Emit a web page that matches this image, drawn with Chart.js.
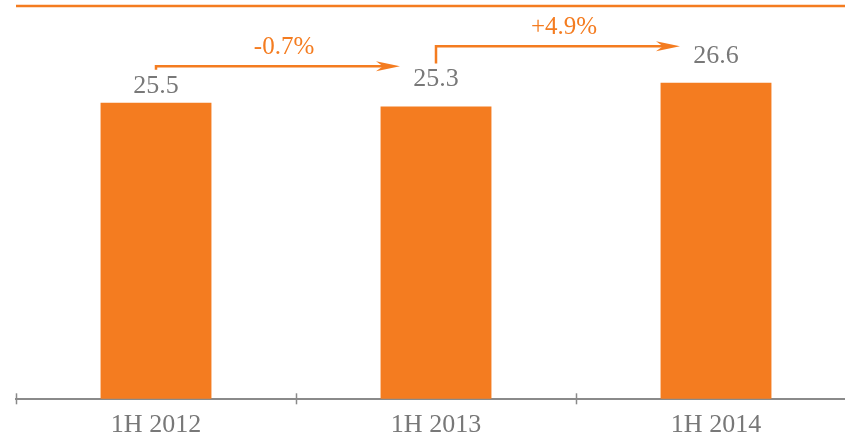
<!DOCTYPE html>
<html>
<head>
<meta charset="utf-8">
<script src="https://cdn.jsdelivr.net/npm/chart.js@4.4.1/dist/chart.umd.min.js"></script>
<style>
  html, body { margin: 0; padding: 0; background: #fff; overflow: hidden; }
  #wrap { position: absolute; left: 0; top: 0; }
</style>
</head>
<body>
<div id="wrap"><canvas id="barChart" width="870" height="452"></canvas></div>
<script>
// Chart data
const categories = ['1H 2012', '1H 2013', '1H 2014'];
const values = [25.5, 25.3, 26.6];
const changes = ['-0.7%', '+4.9%'];

const ORANGE = '#F47C20';
const GREY = '#787878';
const AXIS_GREY = '#8a8a8a';
const SERIF = '"Liberation Serif", "Times New Roman", serif';

// orange rule across the top of the plot
const topRule = {
    id: 'topRule',
    beforeDraw(chart) {
        const { ctx, chartArea } = chart;
        ctx.save();
        ctx.strokeStyle = ORANGE;
        ctx.lineWidth = 2.5;
        ctx.beginPath();
        ctx.moveTo(chartArea.left, chartArea.top);
        ctx.lineTo(chart.width, chartArea.top);
        ctx.stroke();
        ctx.restore();
    }
};

// small ticks crossing the x axis at category boundaries
const axisTicks = {
    id: 'axisTicks',
    afterDraw(chart) {
        const { ctx } = chart;
        const x = chart.scales.x;
        const step = (x.right - x.left) / categories.length;
        ctx.save();
        ctx.strokeStyle = AXIS_GREY;
        ctx.lineWidth = 1.5;
        for (let i = 0; i <= categories.length; i++) {
            const px = Math.round(x.left + i * step) + 0.5;
            ctx.beginPath();
            ctx.moveTo(px, x.top - 5.5);
            ctx.lineTo(px, x.top + 5.5);
            ctx.stroke();
        }
        ctx.restore();
    }
};

// value labels above the bars and the growth arrows
const labelGap = [10, 20, 20];
const annotations = {
    id: 'annotations',
    afterDatasetsDraw(chart) {
        const { ctx } = chart;
        const bars = chart.getDatasetMeta(0).data;
        ctx.save();
        ctx.textAlign = 'center';
        ctx.textBaseline = 'alphabetic';
        ctx.font = '26px ' + SERIF;
        ctx.fillStyle = GREY;
        bars.forEach((bar, i) => {
            ctx.fillText(values[i].toFixed(1), bar.x, bar.y - labelGap[i]);
        });

        ctx.strokeStyle = ORANGE;
        ctx.fillStyle = ORANGE;
        ctx.lineWidth = 2.5;
        changes.forEach((txt, i) => {
            const a = bars[i], b = bars[i + 1];
            const x0 = a.x;
            const x1 = b.x - 36;
            const y = Math.min(a.y, b.y) - 36.5;
            const tickEnd = a.y - labelGap[i] - 23;
            ctx.beginPath();
            ctx.moveTo(x0, tickEnd);
            ctx.lineTo(x0, y);
            ctx.lineTo(x1 - 14, y);
            ctx.stroke();
            // arrow head
            ctx.beginPath();
            ctx.moveTo(x1, y);
            ctx.lineTo(x1 - 24, y - 5);
            ctx.lineTo(x1 - 17, y);
            ctx.lineTo(x1 - 24, y + 5);
            ctx.closePath();
            ctx.fill();
            ctx.font = '25px ' + SERIF;
            ctx.fillText(txt, (x0 + x1) / 2 + 6, y - 12);
        });
        ctx.restore();
    }
};

document.addEventListener('DOMContentLoaded', function () {
    const ctx = document.getElementById('barChart').getContext('2d');
    new Chart(ctx, {
        type: 'bar',
        data: {
            labels: categories,
            datasets: [{
                data: values,
                backgroundColor: ORANGE,
                borderWidth: 0,
                barPercentage: 0.396,
                categoryPercentage: 1
            }]
        },
        options: {
            responsive: false,
            devicePixelRatio: 1,
            animation: false,
            layout: { padding: { top: 6, left: 16, right: 14, bottom: 0 } },
            plugins: {
                legend: { display: false },
                tooltip: { enabled: false }
            },
            scales: {
                x: {
                    grid: { display: true, drawOnChartArea: false, drawTicks: false, offset: true },
                    border: { display: true, color: AXIS_GREY, width: 2 },
                    ticks: {
                        color: GREY,
                        padding: 11,
                        font: { family: SERIF, size: 26 }
                    }
                },
                y: {
                    display: false,
                    min: 9.24,
                    max: 30.82
                }
            }
        },
        plugins: [topRule, axisTicks, annotations]
    });
});
</script>
</body>
</html>
